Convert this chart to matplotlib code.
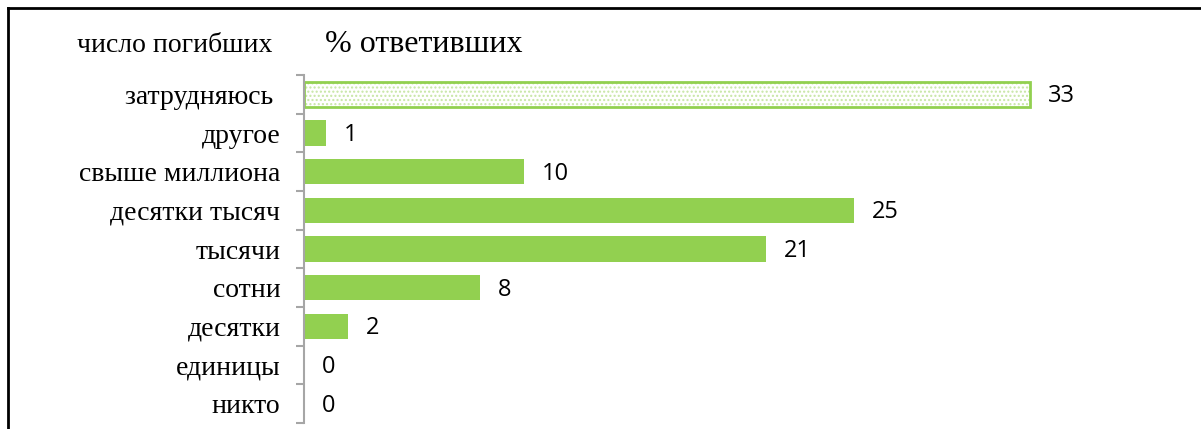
import matplotlib.pyplot as plt
from matplotlib.lines import Line2D

# answers, top to bottom as in the chart
categories = ["затрудняюсь ", "другое", "свыше миллиона", "десятки тысяч",
              "тысячи", "сотни", "десятки", "единицы", "никто"]
values = [33, 1, 10, 25, 21, 8, 2, 0, 0]
hatched = [True, False, False, False, False, False, False, False, False]

green = "#92D050"
light_green = "#C6E6A4"
serif = ["Liberation Serif", "DejaVu Serif"]

W, H = 1201, 429
fig = plt.figure(figsize=(W / 100, H / 100), dpi=100)

# frame of the pasted picture: left and top edges only
fig.add_artist(Line2D([8 / W, 8 / W], [0, 1 - 8 / H], transform=fig.transFigure,
                      color="black", lw=2))
fig.add_artist(Line2D([8 / W, 1], [1 - 8 / H, 1 - 8 / H], transform=fig.transFigure,
                      color="black", lw=2))

ax = fig.add_axes([304 / W, 6 / H, 880 / W, 348 / H])

y = list(range(len(categories)))[::-1]
for yi, v, h in zip(y, values, hatched):
    if h:
        ax.barh(yi, v, height=0.66, color="white", edgecolor=light_green,
                hatch="....", linewidth=0)
        ax.barh(yi, v, height=0.66, color="none", edgecolor=green, linewidth=2)
    else:
        ax.barh(yi, v, height=0.66, color=green, linewidth=0)
    ax.annotate(str(v), (v, yi), xytext=(13, -1.5), textcoords="offset points",
                va="center", ha="left", fontsize=17, family="Open Sans")

ax.set_xlim(0, 40)
ax.set_ylim(-0.5, len(categories) - 0.5)
ax.set_yticks(y)
ax.set_yticklabels(categories, fontsize=20, family=serif)
ax.tick_params(axis="y", which="major", length=0, pad=17)
ax.set_yticks([i - 0.5 for i in range(len(categories) + 1)], minor=True)
ax.tick_params(axis="y", which="minor", length=6, width=1.5, color="#A6A6A6")
ax.set_xticks([])
for s in ["top", "right", "bottom"]:
    ax.spines[s].set_visible(False)
ax.spines["left"].set_color("#A6A6A6")
ax.spines["left"].set_linewidth(1.5)

fig.text(272 / W, 1 - 45 / H, "число погибших", ha="right", va="center",
         fontsize=20, family=serif)
fig.text(325 / W, 1 - 45 / H, "% ответивших", ha="left", va="center",
         fontsize=23, family=serif)

fig.savefig("out.png", dpi=100)
